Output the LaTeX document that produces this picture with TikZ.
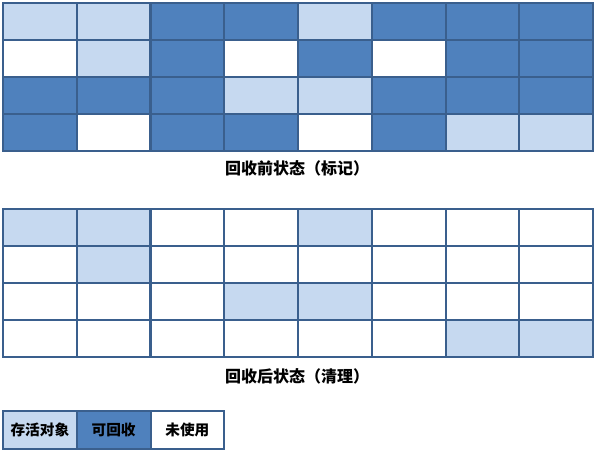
\documentclass[tikz,border=0pt]{standalone}
\usepackage{fontspec}
\setmainfont{Noto Sans CJK SC}
\usepackage{xcolor}
\usepackage{tikz}
\usetikzlibrary{positioning}

\definecolor{liveblue}{RGB}{198,217,240}
\definecolor{deadblue}{RGB}{79,129,189}
\definecolor{gridline}{RGB}{58,95,141}

\tikzset{
  cell/.style={draw=gridline, line width=1.5pt, minimum width=55.3pt, minimum height=27.75pt,
    inner sep=0pt, outer sep=0pt, font=\bfseries\fontsize{11}{13}\selectfont},
  livecell/.style={cell, fill=liveblue},
  deadcell/.style={cell, fill=deadblue},
  freecell/.style={cell, fill=white},
  caption/.style={font=\bfseries\fontsize{12}{14}\selectfont, inner sep=0pt}
}

\begin{document}
\begin{tikzpicture}[x=0.75pt, y=-0.75pt]
    \useasboundingbox (0,0) rectangle (598,452);

    % Before collection (marking)
    \foreach \row [count=\r] in {{livecell,livecell,deadcell,deadcell,livecell,deadcell,deadcell,deadcell},
                                 {freecell,livecell,deadcell,freecell,deadcell,freecell,deadcell,deadcell},
                                 {deadcell,deadcell,deadcell,livecell,livecell,deadcell,deadcell,deadcell},
                                 {deadcell,freecell,deadcell,deadcell,freecell,deadcell,livecell,livecell}}
      \foreach \s [count=\k] in \row
        \node[\s] (pre-\r-\k) at ({3+73.75*(\k-0.5)}, {3+37*(\r-0.5)}) {};

    \node[caption] (capPre) at (297,168) {回收前状态（标记）};

    % After collection (sweeping)
    \foreach \row [count=\r] in {{livecell,livecell,freecell,freecell,livecell,freecell,freecell,freecell},
                                 {freecell,livecell,freecell,freecell,freecell,freecell,freecell,freecell},
                                 {freecell,freecell,freecell,livecell,livecell,freecell,freecell,freecell},
                                 {freecell,freecell,freecell,freecell,freecell,freecell,livecell,livecell}}
      \foreach \s [count=\k] in \row
        \node[\s] (post-\r-\k) at ({3+73.75*(\k-0.5)}, {209+37*(\r-0.5)}) {};

    \node[caption] (capPost) at (297,376) {回收后状态（清理）};

    % Legend
    \node[livecell, minimum height=28.5pt] (legLive) at (39.9,430) {存活对象};
    \node[deadcell, minimum height=28.5pt, right=0pt of legLive] (legDead) {可回收};
    \node[freecell, minimum height=28.5pt, right=0pt of legDead] (legFree) {未使用};
\end{tikzpicture}
\end{document}
